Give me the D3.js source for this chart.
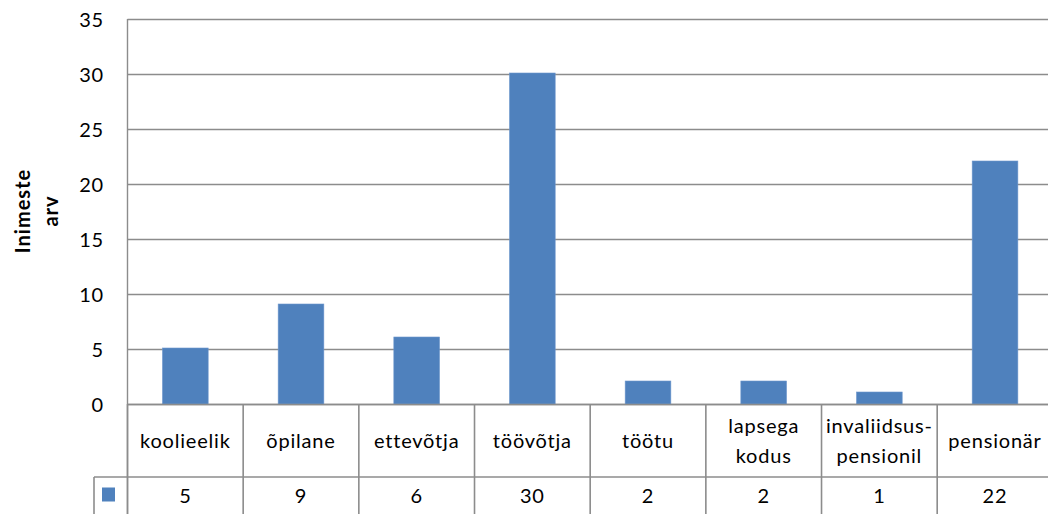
<!DOCTYPE html>
<html>
<head>
<meta charset="utf-8">
<script src="https://cdn.jsdelivr.net/npm/d3@7"></script>
<style>
  html, body { margin: 0; padding: 0; background: #fff; }
  svg { display: block; }
  text { font-family: Lato, "Open Sans", sans-serif; fill: #000; letter-spacing: 0.8px; }
</style>
</head>
<body>
<script>
const categories = ["koolieelik", "õpilane", "ettevõtja", "töövõtja", "töötu", "lapsega kodus", "invaliidsus-pensionil", "pensionär"];
const values = [5, 9, 6, 30, 2, 2, 1, 22];
const yTicks = [0, 5, 10, 15, 20, 25, 30, 35];
const yTitle = ["Inimeste", "arv"];

const W = 1048, H = 514;
const plotLeft = 127.5, step = 115.67, plotTop = 19, zeroY = 404;
const row1Bottom = 477, keyLeft = 94;
const barColor = "#4F81BD";
const gridColor = "#8c8c8c";
const fontSize = 20;

const svg = d3.select("body").append("svg").attr("width", W).attr("height", H);

const x = d3.scaleBand().domain(categories)
  .range([plotLeft, plotLeft + step * categories.length])
  .paddingInner(0.605).paddingOuter(0.3025);
const y = d3.scaleLinear().domain([0, 35]).range([zeroY, plotTop]);

// gridlines
svg.append("g").selectAll("line").data(yTicks).join("line")
  .attr("x1", plotLeft).attr("x2", W + 10)
  .attr("y1", d => Math.round(y(d)) + 0.5).attr("y2", d => Math.round(y(d)) + 0.5)
  .attr("stroke", gridColor).attr("stroke-width", 1.4);

// y axis line
svg.append("line").attr("x1", plotLeft).attr("x2", plotLeft).attr("y1", plotTop).attr("y2", H + 5)
  .attr("stroke", gridColor).attr("stroke-width", 1.4);

// y tick labels
const yAxis = d3.axisLeft(y).tickValues(yTicks).tickSize(0).tickPadding(0);
const gy = svg.append("g").attr("transform", `translate(104,0)`).call(yAxis);
gy.select(".domain").remove();
gy.selectAll("text").style("font-family", "Lato, sans-serif").style("letter-spacing", "0.8px")
  .attr("font-size", fontSize).attr("dy", "0.35em").attr("fill", "#000");

// y title
const yt = svg.append("text").attr("transform", `translate(37,211) rotate(-90)`)
  .attr("text-anchor", "middle").attr("font-weight", "bold").attr("font-size", 20)
  .style("letter-spacing", "1px");
yt.selectAll("tspan").data(yTitle).join("tspan")
  .attr("x", 0).attr("dy", (d, i) => i === 0 ? "-0.35em" : "1.4em").text(d => d);

// bars
svg.append("g").selectAll("rect").data(categories).join("rect")
  .attr("x", d => x(d)).attr("width", x.bandwidth())
  .attr("y", (d, i) => y(values[i]) - 1).attr("height", (d, i) => zeroY - y(values[i]) + 1)
  .attr("fill", barColor).attr("stroke", "#6d96cc").attr("stroke-width", 0.6);

// zero line over bars
svg.append("line").attr("x1", plotLeft).attr("x2", W + 10)
  .attr("y1", zeroY + 0.5).attr("y2", zeroY + 0.5)
  .attr("stroke", gridColor).attr("stroke-width", 1.6);

// data table
const bounds = categories.map(c => x(c) + x.bandwidth() / 2 - x.step() / 2);
bounds.push(plotLeft + step * categories.length);
const tbl = svg.append("g");
tbl.selectAll("line.v").data(bounds).join("line")
  .attr("x1", d => d).attr("x2", d => d).attr("y1", zeroY).attr("y2", H + 5)
  .attr("stroke", gridColor).attr("stroke-width", 1.6);
tbl.append("line").attr("x1", keyLeft).attr("x2", W + 10).attr("y1", row1Bottom).attr("y2", row1Bottom)
  .attr("stroke", gridColor).attr("stroke-width", 1.6);
tbl.append("line").attr("x1", keyLeft).attr("x2", keyLeft).attr("y1", row1Bottom).attr("y2", H + 5)
  .attr("stroke", gridColor).attr("stroke-width", 1.6);
// legend key
tbl.append("rect").attr("x", 102).attr("y", 487.5).attr("width", 13).attr("height", 14).attr("fill", barColor);

function splitLabel(s) {
  if (s.includes(" ")) return s.split(" ");
  const h = s.indexOf("-");
  if (h > 0) return [s.slice(0, h + 1), s.slice(h + 1)];
  return [s];
}

const catText = tbl.selectAll("text.cat").data(categories).join("text")
  .attr("class", "cat")
  .attr("x", d => x(d) + x.bandwidth() / 2)
  .attr("y", (zeroY + row1Bottom) / 2)
  .attr("text-anchor", "middle").attr("font-size", fontSize);
catText.each(function(d) {
  const lines = splitLabel(d);
  const n = lines.length;
  d3.select(this).selectAll("tspan").data(lines).join("tspan")
    .attr("x", x(d) + x.bandwidth() / 2)
    .attr("dy", (l, i) => i === 0 ? `${0.35 - (n - 1) * 0.75}em` : "1.5em")
    .text(l => l);
});

tbl.selectAll("text.val").data(values).join("text")
  .attr("class", "val")
  .attr("x", (d, i) => x(categories[i]) + x.bandwidth() / 2)
  .attr("y", 496).attr("dy", "0.35em")
  .attr("text-anchor", "middle").attr("font-size", fontSize)
  .text(d => d);
</script>
</body>
</html>
